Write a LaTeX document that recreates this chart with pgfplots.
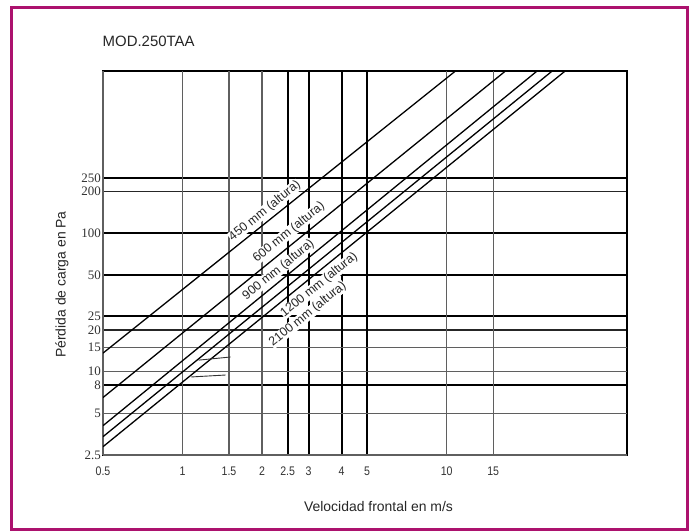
\documentclass[border=0pt]{standalone}
\usepackage{fontspec}
\setmainfont{Liberation Sans}
\newfontfamily\serifnum{Liberation Serif}
\newfontfamily\narrowsans[FakeStretch=0.85]{Liberation Sans}
\usepackage{pgfplots}
\pgfplotsset{compat=1.18}
\definecolor{framecol}{RGB}{172,18,110}
\definecolor{gridgray}{RGB}{95,95,95}
\tikzset{lbl/.style={rotate=39, fill=white, inner sep=0.2bp, font=\fontsize{12.5}{12.5}\selectfont, text=black!85}}

\begin{document}
\begin{tikzpicture}
\useasboundingbox (0,0) rectangle (690bp,532bp);
\fill[white] (0,0) rectangle (690bp,532bp);
\draw[framecol, line width=3bp] (11.5bp,2.5bp) rectangle (687bp,524bp);
\node[anchor=west, inner sep=0pt, font=\fontsize{15}{15}\selectfont, text=black!85] at (102.5bp,491bp) {MOD.250TAA};
\node[rotate=90, inner sep=0pt, font=\fontsize{14}{15}\selectfont, text=black!85] at (62bp,247.5bp) {Pérdida de carga en Pa};
\node[inner sep=0pt, font=\fontsize{14}{15}\selectfont, text=black!85] at (378.5bp,25bp) {Velocidad frontal en m/s};

\begin{axis}[
  at={(103bp,77bp)}, anchor=south west,
  scale only axis, width=524.3bp, height=384bp,
  xmode=log, ymode=log,
  xmin=0.5, xmax=48.3, ymin=2.5, ymax=1480,
  axis line style={draw=none},
  major tick length=0pt, minor tick length=0pt,
  tick style={draw=none},
  xtick=\empty, minor xtick={}, minor ytick={},
  ytick={20,200}, yticklabels={20,200},
  ymajorgrids,
  major grid style={black!85, line width=1.5bp},
  yticklabel style={font=\serifnum\fontsize{13}{13}\selectfont, inner sep=0pt, xshift=-2bp, text=black!80},
]
\end{axis}

\begin{axis}[
  at={(103bp,77bp)}, anchor=south west,
  scale only axis, width=524.3bp, height=384bp,
  xmode=log, ymode=log,
  xmin=0.5, xmax=48.3, ymin=2.5, ymax=1480,
  axis line style={line width=1.8bp, black},
  major tick length=0pt, minor tick length=0pt,
  tick style={draw=none},
  xtick={2.5,3,4,5}, xticklabels={2.5,3,4,5},
  extra x ticks={0.5,1,1.5,2,10,15}, extra x tick labels={0.5,1,1.5,2,10,15},
  ytick={8,25,50,100,250}, yticklabels={8,25,50,100,250},
  extra y ticks={2.5,5,10,15}, extra y tick labels={2.5,5,10,15},
  xmajorgrids, ymajorgrids,
  major grid style={black, line width=2bp},
  extra x tick style={major grid style={gridgray, line width=1.2bp}},
  extra y tick style={major grid style={gridgray, line width=1.2bp}},
  xticklabel style={font=\narrowsans\fontsize{12.5}{12.5}\selectfont, inner sep=0pt, anchor=north, yshift=-11.5bp, text=black!80},
  yticklabel style={font=\serifnum\fontsize{13}{13}\selectfont, inner sep=0pt, xshift=-2bp, text=black!80},
]
\node[lbl] at (axis cs:2.05,144) {450 mm (altura)};
\node[lbl] at (axis cs:2.53,101) {600 mm (altura)};
\node[lbl] at (axis cs:2.31,54.2) {900 mm (altura)};
\node[lbl] at (axis cs:3.29,42.2) {1200 mm (altura)};
\node[lbl] at (axis cs:2.98,25.9) {2100 mm (altura)};
\addplot[black, line width=1.3bp] coordinates {(0.5,13.6) (10.8,1480)};
\addplot[black, line width=1.3bp] coordinates {(0.5,6.5) (16.7,1480)};
\addplot[black, line width=1.3bp] coordinates {(0.5,4.07) (22.0,1480)};
\addplot[black, line width=1.3bp] coordinates {(0.5,3.39) (25.1,1480)};
\addplot[black, line width=1.3bp] coordinates {(0.5,2.87) (28.1,1480)};
\addplot[black!80, line width=0.9bp] coordinates {(1.15,12.1) (1.52,12.75)};
\addplot[black!80, line width=0.9bp] coordinates {(1.08,9.15) (1.457,9.45)};
\end{axis}
\end{tikzpicture}
\end{document}
